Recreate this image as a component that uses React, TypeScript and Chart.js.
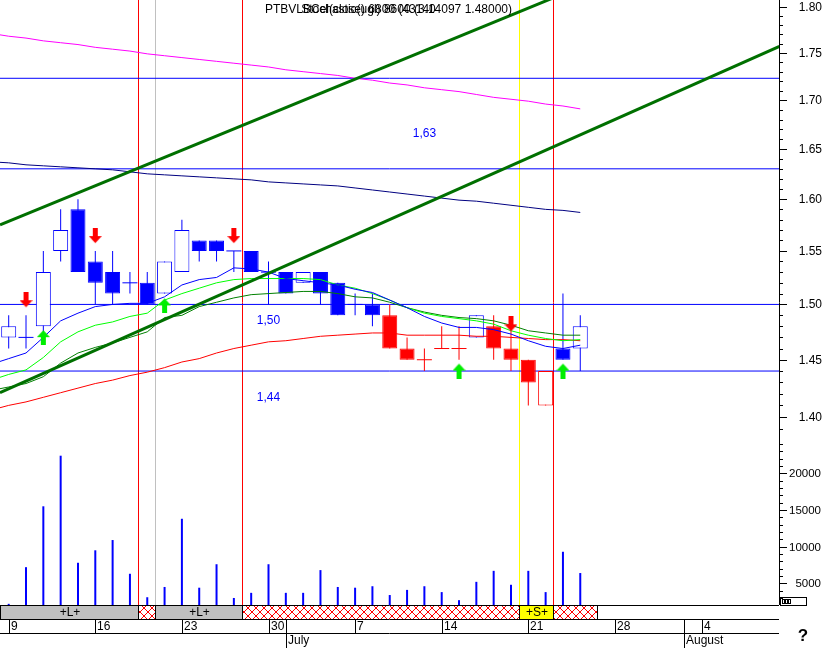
import { useEffect, useRef } from 'react';
import { Chart, registerables } from 'chart.js';

Chart.register(...registerables);

// ---------- categories (trading days) ----------
const tradingDays = [
  '2008-06-09', '2008-06-10', '2008-06-11', '2008-06-12', '2008-06-13',
  '2008-06-16', '2008-06-17', '2008-06-18', '2008-06-19', '2008-06-20',
  '2008-06-23', '2008-06-24', '2008-06-25', '2008-06-26', '2008-06-27',
  '2008-06-30', '2008-07-01', '2008-07-02', '2008-07-03', '2008-07-04',
  '2008-07-07', '2008-07-08', '2008-07-09', '2008-07-10', '2008-07-11',
  '2008-07-14', '2008-07-15', '2008-07-16', '2008-07-17', '2008-07-18',
  '2008-07-21', '2008-07-22', '2008-07-23', '2008-07-24', '2008-07-25',
  '2008-07-28', '2008-07-29', '2008-07-30', '2008-07-31', '2008-08-01',
  '2008-08-04', '2008-08-05', '2008-08-06', '2008-08-07', '2008-08-08',
];
const monthNames = ['January', 'February', 'March', 'April', 'May', 'June', 'July', 'August', 'September', 'October', 'November', 'December'];

// ---------- candles (index 0 = first trading day) ----------
const opens = [1.47, 1.47, 1.48, 1.55, 1.59, 1.54, 1.53, 1.52, 1.52, 1.51, 1.53, 1.56, 1.56, 1.55, 1.55, 1.53, 1.53, 1.52, 1.53, 1.52, 1.50, 1.50, 1.49, 1.46, 1.45, 1.46, 1.46, 1.47, 1.48, 1.46, 1.45, 1.41, 1.46, 1.46];
const highs = [1.49, 1.49, 1.55, 1.59, 1.60, 1.55, 1.55, 1.53, 1.53, 1.54, 1.58, 1.56, 1.56, 1.55, 1.55, 1.54, 1.53, 1.53, 1.53, 1.52, 1.51, 1.51, 1.50, 1.47, 1.46, 1.48, 1.48, 1.49, 1.49, 1.48, 1.45, 1.44, 1.51, 1.49];
const lows = [1.46, 1.46, 1.47, 1.54, 1.53, 1.50, 1.50, 1.51, 1.50, 1.51, 1.53, 1.54, 1.54, 1.53, 1.53, 1.50, 1.51, 1.52, 1.50, 1.49, 1.49, 1.48, 1.46, 1.45, 1.44, 1.46, 1.45, 1.47, 1.45, 1.44, 1.41, 1.41, 1.45, 1.44];
const closes = [1.48, 1.47, 1.53, 1.57, 1.53, 1.52, 1.51, 1.52, 1.50, 1.54, 1.57, 1.55, 1.55, 1.55, 1.53, 1.53, 1.51, 1.53, 1.51, 1.49, 1.50, 1.49, 1.46, 1.45, 1.45, 1.46, 1.46, 1.49, 1.46, 1.45, 1.43, 1.44, 1.45, 1.48];
const candleColors = ['B', 'B', 'B', 'B', 'B', 'B', 'B', 'B', 'B', 'B', 'B', 'B', 'B', 'B', 'B', 'B', 'B', 'B', 'B', 'B', 'B', 'B', 'R', 'R', 'R', 'R', 'R', 'B', 'R', 'R', 'R', 'R', 'B', 'B'];
const volumes = [2200, 7200, 15500, 22400, 7800, 9500, 10900, 6300, 3100, 4500, 13800, 4400, 7600, 3000, 3700, 7600, 3700, 3700, 6800, 4500, 4400, 4600, 3400, 4100, 4600, 3800, 2700, 5200, 6700, 4800, 6700, 3800, 9300, 6400];

// ---------- indicator lines (first value = index -1) ----------
const fastMA = [1.446, 1.451, 1.456, 1.470, 1.485, 1.492, 1.498, 1.500, 1.501, 1.501, 1.507, 1.518, 1.523, 1.525, 1.534, 1.533, 1.530, 1.524, 1.522, 1.520, 1.518, 1.514, 1.511, 1.504, 1.497, 1.489, 1.483, 1.479, 1.479, 1.477, 1.473, 1.467, 1.462, 1.460, 1.463];
const limeMA = [1.432, 1.437, 1.441, 1.452, 1.466, 1.475, 1.481, 1.484, 1.489, 1.492, 1.504, 1.510, 1.515, 1.520, 1.523, 1.524, 1.524, 1.524, 1.524, 1.523, 1.518, 1.515, 1.510, 1.504, 1.497, 1.492, 1.489, 1.487, 1.485, 1.482, 1.476, 1.472, 1.469, 1.467, 1.468];
const greenMA = [1.423, 1.426, 1.429, 1.435, 1.447, 1.456, 1.461, 1.465, 1.470, 1.475, 1.488, 1.490, 1.498, 1.502, 1.506, 1.509, 1.510, 1.511, 1.512, 1.512, 1.510, 1.507, 1.506, 1.502, 1.497, 1.493, 1.490, 1.488, 1.487, 1.485, 1.481, 1.476, 1.474, 1.472, 1.472];
const redMA = [1.406, 1.410, 1.413, 1.417, 1.421, 1.425, 1.429, 1.432, 1.436, 1.439, 1.443, 1.448, 1.451, 1.456, 1.460, 1.463, 1.466, 1.467, 1.469, 1.471, 1.472, 1.473, 1.474, 1.474, 1.472, 1.472, 1.472, 1.472, 1.471, 1.471, 1.470, 1.469, 1.468, 1.468, 1.467];
const magentaMA = [1.771, 1.768, 1.766, 1.763, 1.761, 1.759, 1.756, 1.754, 1.752, 1.749, 1.747, 1.745, 1.743, 1.741, 1.739, 1.737, 1.735, 1.732, 1.730, 1.728, 1.726, 1.723, 1.721, 1.718, 1.716, 1.713, 1.711, 1.709, 1.706, 1.703, 1.701, 1.699, 1.696, 1.694, 1.691];
const navyMA = [1.637, 1.636, 1.634, 1.633, 1.632, 1.631, 1.630, 1.629, 1.627, 1.625, 1.624, 1.623, 1.622, 1.621, 1.620, 1.619, 1.617, 1.616, 1.615, 1.614, 1.613, 1.611, 1.609, 1.607, 1.605, 1.603, 1.601, 1.599, 1.598, 1.596, 1.594, 1.592, 1.590, 1.589, 1.587];

// trend lines (two end points each)
const trendX = [-0.5, 44.5];
const trendA = [1.575, 1.916];
const trendB = [1.421, 1.757];

// horizontal price levels and their notes
const levels = [1.723, 1.63, 1.50, 1.44];
const levelNotes = ['1,63', '1,50', '1,44'];
const levelNoteAt = [24, 15, 15];
const levelNotePrice = [1.665, 1.485, 1.417];

// signals
const sellIdx = [1, 5, 13, 29];
const sellTips = [1.497, 1.557, 1.557, 1.475];
const buyIdx = [2, 9, 26, 32];
const buyTips = [1.477, 1.506, 1.447, 1.447];

// event markers
const redMarkers = [7.5, 13.5, 31.43];
const grayMarkers = [8.5];
const yellowMarkers = [29.5];

// signal band row
const bandStart = [-0.5, 7.5, 8.5, 13.5, 29.5, 31.43];
const bandEnd = [7.5, 8.5, 13.5, 29.5, 31.43, 34];
const bandType = ['L', 'X', 'L', 'X', 'S', 'X'];
const bandText = ['+L+', '', '+L+', '', '+S+', ''];

// axis ticks
const priceTicks = [1.40, 1.45, 1.50, 1.55, 1.60, 1.65, 1.70, 1.75, 1.80];
const priceMinorStep = 0.01;
const volTicks = [5000, 10000, 15000, 20000];
const volMinorStep = 1000;

const titleTexts = ['PTBVLBCel(close) 6800 (43140', 'Stochastic(ugl) 8600 (3.14097 1.48000)'];

// ---------- axis ranges ----------
const X_MIN = -0.502;
const X_MAX = 44.474;
const PRICE_MIN = 1.3804;
const PRICE_MAX = 1.8077;
const VOL_MIN = 2041;
const VOL_MAX = 24541;

const BLUE = '#0000ff';
const RED = '#ff0000';
const FONT = '"Liberation Sans", Arial, Helvetica, sans-serif';

function makeArrow(color: string, down: boolean) {
  const c = document.createElement('canvas');
  c.width = 13;
  c.height = 31;
  const g = c.getContext('2d')!;
  g.fillStyle = color;
  if (down) {
    g.fillRect(4, 0, 5, 8);
    g.beginPath();
    g.moveTo(0, 8);
    g.lineTo(13, 8);
    g.lineTo(6.5, 15);
    g.closePath();
    g.fill();
  } else {
    g.beginPath();
    g.moveTo(6.5, 16);
    g.lineTo(13, 23);
    g.lineTo(0, 23);
    g.closePath();
    g.fill();
    g.fillRect(4, 23, 5, 8);
  }
  return c;
}

function makeHatch(ctx: CanvasRenderingContext2D) {
  const c = document.createElement('canvas');
  c.width = 8;
  c.height = 8;
  const g = c.getContext('2d')!;
  g.fillStyle = '#ffffff';
  g.fillRect(0, 0, 8, 8);
  g.strokeStyle = RED;
  g.lineWidth = 1;
  g.beginPath();
  g.moveTo(0, 0);
  g.lineTo(8, 8);
  g.moveTo(8, 0);
  g.lineTo(0, 8);
  g.stroke();
  return ctx.createPattern(c, 'repeat');
}

function parseDay(s: string) {
  const [y, m, d] = s.split('-').map(Number);
  const dt = new Date(Date.UTC(y, m - 1, d));
  return { month: m - 1, day: d, dow: dt.getUTCDay() };
}

const overlayPlugin = {
  id: 'overlay',
  beforeDatasetsDraw(chart: any) {
    const { ctx, chartArea } = chart;
    const xs = chart.scales.x;
    ctx.save();
    ctx.lineWidth = 1;
    const drawV = (vals: number[], color: string) => {
      vals.forEach((v) => {
        const x = Math.floor(xs.getPixelForValue(v)) + 0.5;
        ctx.strokeStyle = color;
        ctx.beginPath();
        ctx.moveTo(x, chartArea.top);
        ctx.lineTo(x, chartArea.bottom);
        ctx.stroke();
      });
    };
    drawV(grayMarkers, '#c0c0c0');
    drawV(yellowMarkers, '#ffff00');
    drawV(redMarkers, RED);
    ctx.restore();
  },
  afterDraw(chart: any) {
    const { ctx, chartArea } = chart;
    const xs = chart.scales.x;
    const yp = chart.scales.yPrice;
    const yv = chart.scales.yVol;
    const right = chartArea.right;
    const bottom = chartArea.bottom;
    ctx.save();
    ctx.lineWidth = 1;
    ctx.strokeStyle = '#000000';
    ctx.fillStyle = '#000000';

    const hLine = (x1: number, x2: number, y: number) => {
      ctx.beginPath();
      ctx.moveTo(x1, y + 0.5);
      ctx.lineTo(x2, y + 0.5);
      ctx.stroke();
    };
    const vLine = (x: number, y1: number, y2: number) => {
      ctx.beginPath();
      ctx.moveTo(x + 0.5, y1);
      ctx.lineTo(x + 0.5, y2);
      ctx.stroke();
    };

    // right axis line
    vLine(Math.round(right), chartArea.top, bottom);

    // price ticks
    ctx.font = '12px ' + FONT;
    ctx.textAlign = 'right';
    ctx.textBaseline = 'middle';
    const pStart = Math.ceil(PRICE_MIN / priceMinorStep - 1e-6);
    const pEnd = Math.floor(PRICE_MAX / priceMinorStep + 1e-6);
    for (let k = pStart; k <= pEnd; k++) {
      const v = k * priceMinorStep;
      const y = Math.round(yp.getPixelForValue(v));
      const major = priceTicks.some((t) => Math.abs(t - v) < 1e-6);
      hLine(Math.round(right), Math.round(right) + (major ? 8 : 4), y);
    }
    priceTicks.forEach((t) => {
      const y = Math.round(yp.getPixelForValue(t));
      ctx.fillText(t.toFixed(2), 822, y + 1);
    });

    // volume ticks
    const vStart = Math.ceil(VOL_MIN / volMinorStep);
    const vEnd = Math.floor(VOL_MAX / volMinorStep);
    for (let k = vStart; k <= vEnd; k++) {
      const v = k * volMinorStep;
      const y = Math.round(yv.getPixelForValue(v));
      const major = volTicks.includes(v);
      hLine(Math.round(right), Math.round(right) + (major ? 8 : 4), y);
    }
    ctx.font = '11.5px ' + FONT;
    volTicks.forEach((t) => {
      const y = Math.round(yv.getPixelForValue(t));
      ctx.fillText(String(t), 821, y + 1);
    });

    // ---- signal band row ----
    const bandTop = Math.round(bottom);
    const bandBot = bandTop + 14;
    const rowBot = bandBot + 14;
    const hatch = makeHatch(ctx);
    bandStart.forEach((s, i) => {
      const x1 = Math.max(0, Math.floor(xs.getPixelForValue(s)));
      const x2 = Math.floor(xs.getPixelForValue(bandEnd[i]));
      const t = bandType[i];
      ctx.fillStyle = t === 'L' ? '#c0c0c0' : t === 'S' ? '#ffff00' : (hatch as any);
      ctx.fillRect(x1, bandTop + 1, x2 - x1, bandBot - bandTop - 1);
      vLine(x1, bandTop, bandBot + 1);
      vLine(x2, bandTop, bandBot + 1);
      if (bandText[i]) {
        ctx.fillStyle = '#000000';
        ctx.font = '12px ' + FONT;
        ctx.textAlign = 'center';
        ctx.textBaseline = 'middle';
        ctx.fillText(bandText[i], (x1 + x2) / 2 + 1, bandTop + 8);
      }
    });
    hLine(0, Math.round(right), bandTop);
    hLine(0, Math.round(right), bandBot);
    hLine(0, Math.round(right), rowBot);

    // ---- date row + month row ----
    ctx.fillStyle = '#000000';
    ctx.font = '12px ' + FONT;
    ctx.textAlign = 'left';
    ctx.textBaseline = 'middle';
    let prevMonth = -1;
    tradingDays.forEach((d, i) => {
      const info = parseDay(d);
      const px = xs.getPixelForValue(i);
      if (px > right) return;
      const x = Math.round(px);
      if (info.dow === 1) {
        vLine(x, bandBot, rowBot);
        ctx.fillText(String(info.day), x + 2, bandBot + 8);
      }
      if (prevMonth !== -1 && info.month !== prevMonth) {
        vLine(x, bandBot, 648);
        ctx.fillText(monthNames[info.month], x + 2, rowBot + 8);
      }
      prevMonth = info.month;
    });

    // ---- level notes ----
    ctx.fillStyle = BLUE;
    ctx.font = '12px ' + FONT;
    ctx.textAlign = 'center';
    ctx.textBaseline = 'middle';
    levelNotes.forEach((n, i) => {
      ctx.fillText(n, xs.getPixelForValue(levelNoteAt[i]), yp.getPixelForValue(levelNotePrice[i]));
    });

    // ---- title ----
    ctx.fillStyle = '#000000';
    ctx.font = '12px ' + FONT;
    ctx.textBaseline = 'middle';
    ctx.textAlign = 'left';
    ctx.fillText(titleTexts[0], 265, 10);
    ctx.textAlign = 'right';
    ctx.fillText(titleTexts[1], 512, 10);

    // ---- little widget + help mark ----
    ctx.strokeStyle = '#000000';
    ctx.strokeRect(780.5, 597.5, 26, 8);
    ctx.fillStyle = '#000000';
    for (let k = 0; k < 3; k++) {
      ctx.strokeRect(782.5 + k * 3, 599.5, 2, 4);
    }
    ctx.font = 'bold 17px ' + FONT;
    ctx.textAlign = 'center';
    ctx.textBaseline = 'middle';
    ctx.fillText('?', 803, 636);

    ctx.restore();
  },
};

export default function App() {
  const ref = useRef<HTMLCanvasElement>(null);

  useEffect(() => {
    const canvas = ref.current;
    if (!canvas) return;

    const idx = opens.map((_, i) => i);
    const colorOf = (i: number) => (candleColors[i] === 'R' ? RED : BLUE);
    const isDoji = (i: number) => opens[i] === closes[i];
    const bodyIdx = idx.filter((i) => !isDoji(i));
    const dojiIdx = idx.filter((i) => isDoji(i));
    const series = (arr: number[]) => arr.map((v, k) => ({ x: k - 1, y: v }));
    const lineDs = (arr: number[], color: string, order: number, width = 1) => ({
      type: 'line',
      data: series(arr),
      yAxisID: 'yPrice',
      borderColor: color,
      borderWidth: width,
      pointRadius: 0,
      tension: 0,
      fill: false,
      order,
    });

    const downArrow = makeArrow(RED, true);
    const upArrow = makeArrow('#00ee00', false);

    const datasets: any[] = [
      ...levels.map((lv) => ({
        type: 'line',
        data: [{ x: X_MIN - 1, y: lv }, { x: X_MAX + 1, y: lv }],
        yAxisID: 'yPrice',
        borderColor: BLUE,
        borderWidth: 1,
        pointRadius: 0,
        fill: false,
        order: 20,
      })),
      {
        type: 'bar',
        data: volumes.map((v, i) => ({ x: i, y: v })),
        yAxisID: 'yVol',
        backgroundColor: BLUE,
        borderWidth: 0,
        grouped: false,
        barThickness: 2,
        maxBarThickness: 2,
        inflateAmount: 0,
        base: VOL_MIN,
        order: 19,
      },
      {
        type: 'bar',
        data: idx.map((i) => ({ x: i, y: [lows[i], highs[i]] })),
        yAxisID: 'yPrice',
        backgroundColor: idx.map(colorOf),
        borderWidth: 0,
        grouped: false,
        barThickness: 1,
        maxBarThickness: 1,
        inflateAmount: 0,
        order: 18,
      },
      {
        type: 'bar',
        data: bodyIdx.map((i) => ({ x: i, y: [opens[i], closes[i]] })),
        yAxisID: 'yPrice',
        backgroundColor: bodyIdx.map((i) => (closes[i] > opens[i] ? '#ffffff' : colorOf(i))),
        borderColor: bodyIdx.map(colorOf),
        borderWidth: 1,
        borderSkipped: false,
        grouped: false,
        barThickness: 15,
        maxBarThickness: 15,
        inflateAmount: 0,
        order: 17,
      },
      {
        type: 'line',
        data: dojiIdx.map((i) => ({ x: i, y: opens[i] })),
        yAxisID: 'yPrice',
        showLine: false,
        pointStyle: 'line',
        pointRadius: 7.5,
        pointBorderWidth: 1,
        pointBorderColor: dojiIdx.map(colorOf),
        order: 16,
      },
      lineDs(magentaMA, '#ff00ff', 15),
      lineDs(navyMA, '#000080', 15),
      lineDs(redMA, RED, 14),
      lineDs(greenMA, '#008000', 13),
      lineDs(limeMA, '#00ff00', 12),
      lineDs(fastMA, BLUE, 11),
      {
        type: 'line',
        data: trendX.map((x, i) => ({ x, y: trendA[i] })),
        yAxisID: 'yPrice',
        borderColor: '#007000',
        borderWidth: 3,
        pointRadius: 0,
        fill: false,
        order: 5,
      },
      {
        type: 'line',
        data: trendX.map((x, i) => ({ x, y: trendB[i] })),
        yAxisID: 'yPrice',
        borderColor: '#007000',
        borderWidth: 3,
        pointRadius: 0,
        fill: false,
        order: 5,
      },
      {
        type: 'line',
        data: sellIdx.map((x, i) => ({ x, y: sellTips[i] })),
        yAxisID: 'yPrice',
        showLine: false,
        pointStyle: downArrow,
        pointRadius: 8,
        order: 1,
      },
      {
        type: 'line',
        data: buyIdx.map((x, i) => ({ x, y: buyTips[i] })),
        yAxisID: 'yPrice',
        showLine: false,
        pointStyle: upArrow,
        pointRadius: 8,
        order: 1,
      },
    ];

    const hidden = { display: false };
    const chart = new Chart(canvas, {
      type: 'bar',
      data: { datasets },
      options: {
        responsive: false,
        animation: false,
        devicePixelRatio: 1,
        events: [],
        layout: { padding: 0, autoPadding: false },
        plugins: {
          legend: { display: false },
          tooltip: { enabled: false },
          title: { display: false },
        },
        scales: {
          x: {
            type: 'linear',
            min: X_MIN,
            max: X_MAX,
            offset: false,
            bounds: 'data',
            ticks: hidden,
            grid: hidden,
            border: hidden,
            afterFit: (s: any) => {
              s.height = 43;
            },
          },
          yPrice: {
            type: 'logarithmic',
            position: 'right',
            stack: 'panels',
            stackWeight: 440,
            min: PRICE_MIN,
            max: PRICE_MAX,
            bounds: 'data',
            ticks: hidden,
            grid: hidden,
            border: hidden,
            afterFit: (s: any) => {
              s.width = 47;
            },
          },
          yVol: {
            type: 'linear',
            position: 'right',
            stack: 'panels',
            stackWeight: 165,
            min: VOL_MIN,
            max: VOL_MAX,
            bounds: 'data',
            ticks: hidden,
            grid: hidden,
            border: hidden,
            afterFit: (s: any) => {
              s.width = 47;
            },
          },
        },
      } as any,
      plugins: [overlayPlugin],
    } as any);

    return () => chart.destroy();
  }, []);

  return (
    <div style={{ position: 'absolute', left: 0, top: 0, width: 826, height: 648, background: '#ffffff' }}>
      <canvas ref={ref} width={826} height={648} style={{ display: 'block', width: 826, height: 648 }} />
    </div>
  );
}
